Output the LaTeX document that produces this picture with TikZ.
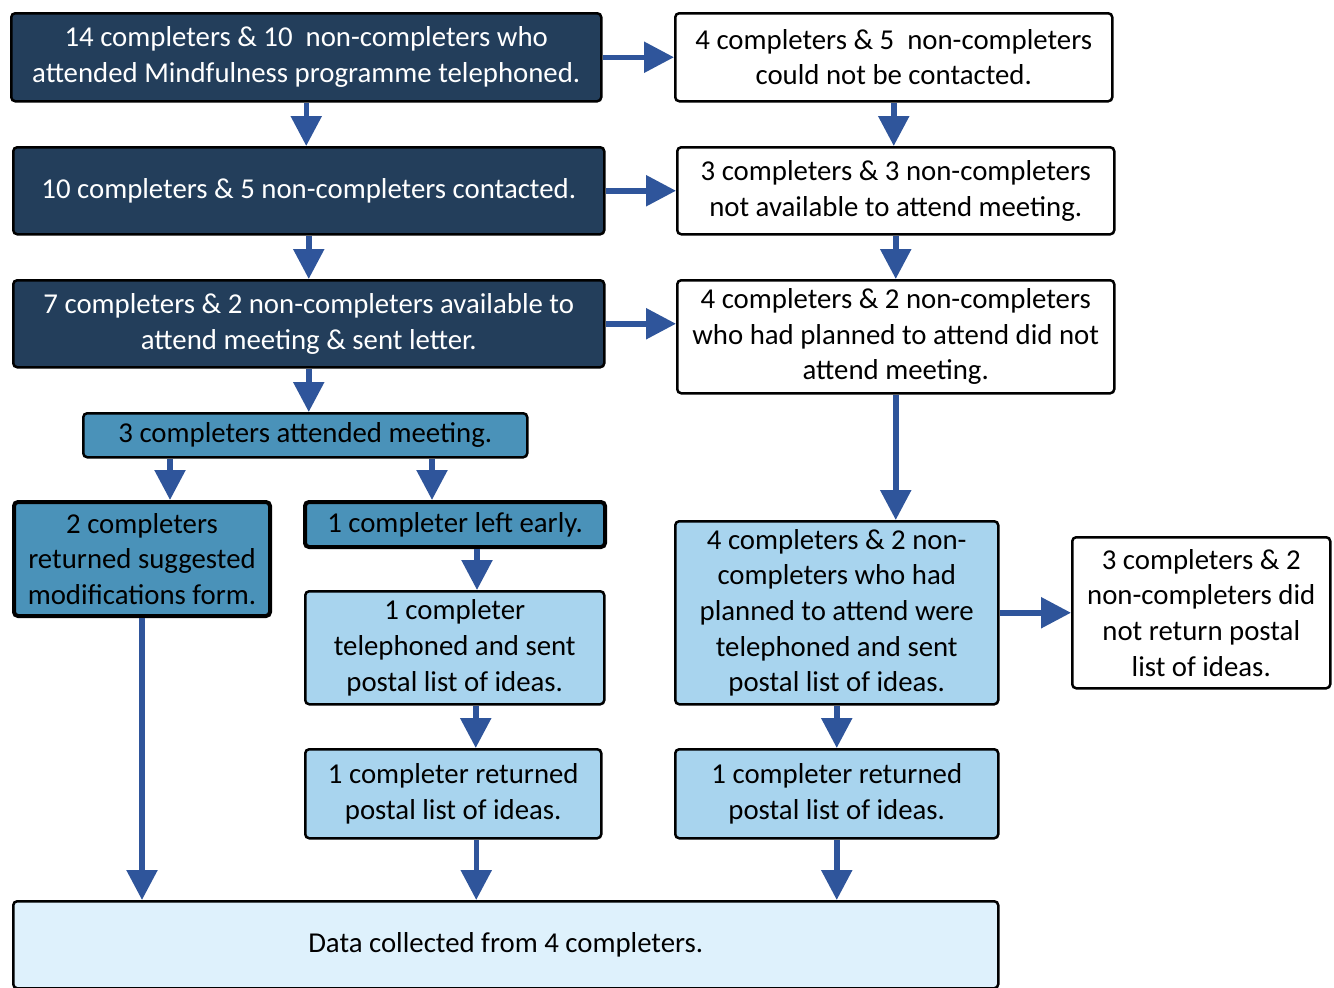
\documentclass[tikz,border=0pt]{standalone}
\usepackage{fontspec}
\setmainfont{Carlito}
\usetikzlibrary{arrows.meta,calc}
\definecolor{navy}{HTML}{233E5B}
\definecolor{midblue}{HTML}{4A92B9}
\definecolor{lightblue}{HTML}{A8D4EE}
\definecolor{paleblue}{HTML}{DEF1FC}
\definecolor{arrowblue}{HTML}{2F559B}
\tikzset{
  box/.style={draw=black, line width=2.5pt, rounded corners=4pt, anchor=north west,
    inner sep=0pt, align=center, font=\fontsize{28.8}{35.6}\selectfont},
  darkbox/.style={box, fill=navy, text=white},
  midbox/.style={box, fill=midblue, text=black},
  heavybox/.style={midbox, line width=4pt},
  lightbox/.style={box, fill=lightblue, text=black},
  whitebox/.style={box, fill=white, text=black},
  palebox/.style={box, fill=paleblue, text=black},
  arr/.style={draw=arrowblue, line width=5.5pt,
    -{Triangle[width=30pt,length=30pt]}, shorten >=0pt},
}
\begin{document}
\begin{tikzpicture}[x=1pt,y=-1pt]
\useasboundingbox (0,0) rectangle (1334,988);

% left column
\node[darkbox, minimum width=590pt, minimum height=88pt] (A) at (10,12)
  {14 completers \& 10\ \ non-completers who\\attended Mindfulness programme telephoned.};
\node[darkbox, minimum width=591pt, minimum height=87pt] (C) at (12,146)
  {10 completers \& 5 non-completers contacted.};
\node[darkbox, minimum width=591pt, minimum height=87pt] (E) at (12,279)
  {7 completers \& 2 non-completers available to\\attend meeting \& sent letter.};

% right column
\node[whitebox, minimum width=437pt, minimum height=88pt] (B) at (674,12)
  {4 completers \& 5\ \ non-completers\\could not be contacted.};
\node[whitebox, minimum width=437pt, minimum height=87pt] (D) at (676,146)
  {3 completers \& 3 non-completers\\not available to attend meeting.};
\node[whitebox, minimum width=437pt, minimum height=113pt] (F) at (676,279)
  {4 completers \& 2 non-completers\\who had planned to attend did not\\attend meeting.};

% meeting branch
\node[midbox, minimum width=444pt, minimum height=44pt] (G) at (82,412)
  {3 completers attended meeting.};
\node[heavybox, minimum width=256pt, minimum height=114pt] (H) at (12,500)
  {2 completers\\returned suggested\\modifications form.};
\node[heavybox, minimum width=300pt, minimum height=45pt] (I) at (303,500)
  {1 completer left early.};
\node[lightbox, minimum width=299pt, minimum height=113pt] (J) at (304,590)
  {1 completer\\telephoned and sent\\postal list of ideas.};
\node[lightbox, minimum width=296pt, minimum height=89pt] (K) at (304,748)
  {1 completer returned\\postal list of ideas.};

% follow-up branch
\node[lightbox, minimum width=323pt, minimum height=183pt] (L) at (674,520)
  {4 completers \& 2 non-\\completers who had\\planned to attend were\\telephoned and sent\\postal list of ideas.};
\node[whitebox, minimum width=258pt, minimum height=151pt] (M) at (1071,536)
  {3 completers \& 2\\non-completers did\\not return postal\\list of ideas.};
\node[lightbox, minimum width=323pt, minimum height=89pt] (P) at (674,748)
  {1 completer returned\\postal list of ideas.};

% result
\node[palebox, minimum width=985pt, minimum height=87pt] (N) at (12,900)
  {Data collected from 4 completers.};

% connectors
\draw[arr] (A.east) -- (A.east -| B.west);
\draw[arr] (A.south) -- (A.south |- C.north);
\draw[arr] (B.south) -- (B.south |- D.north);
\draw[arr] (C.east) -- (C.east -| D.west);
\draw[arr] (C.south) -- (C.south |- E.north);
\draw[arr] (D.south) -- (D.south |- F.north);
\draw[arr] (E.east) -- (E.east -| F.west);
\draw[arr] (E.south) -- (E.south |- G.north);
\draw[arr] (F.south) -- (F.south |- L.north);
\draw[arr] ([xshift=88pt]G.south west) -- ([xshift=88pt]G.south west |- H.north);
\draw[arr] ([xshift=350pt]G.south west) -- ([xshift=350pt]G.south west |- I.north);
\draw[arr] ([xshift=22pt]I.south) -- ([xshift=22pt]I.south |- J.north);
\draw[arr] ([xshift=21pt]J.south) -- ([xshift=21pt]J.south |- K.north);
\draw[arr] ([xshift=23pt]K.south) -- ([xshift=23pt]K.south |- N.north);
\draw[arr] (H.south) -- (H.south |- N.north);
\draw[arr] (L.east) -- (L.east -| M.west);
\draw[arr] (L.south) -- (L.south |- P.north);
\draw[arr] (P.south) -- (P.south |- N.north);
\end{tikzpicture}
\end{document}
